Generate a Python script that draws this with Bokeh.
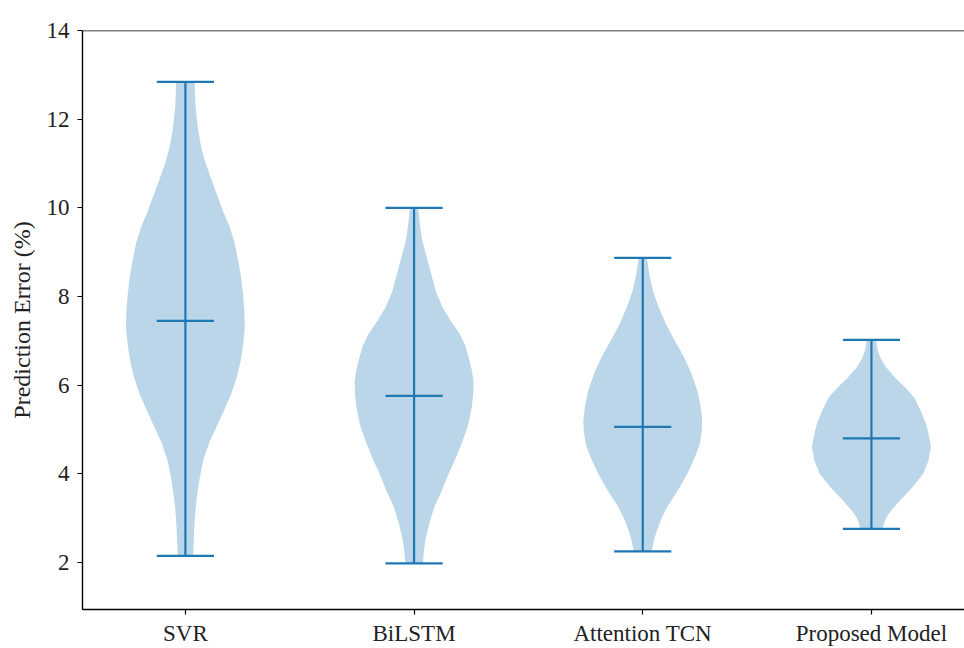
from bokeh.plotting import figure
from bokeh.models import Range1d, FixedTicker, Span
from bokeh.embed import file_html
from bokeh.resources import INLINE

# ---- data ----
categories = ["SVR", "BiLSTM", "Attention TCN", "Proposed Model"]
positions = [1, 2, 3, 4]

svr_y = [2.16, 2.50, 2.80, 3.20, 3.54, 3.90, 4.30, 4.70, 5.05, 5.40, 5.80, 6.20, 6.55, 6.90,
         7.30, 7.70, 8.05, 8.40, 8.80, 9.20, 9.55, 9.90, 10.30, 10.70, 11.05, 11.40, 11.80, 12.30, 12.84]
svr_d = [0.13, 0.14, 0.15, 0.17, 0.20, 0.24, 0.30, 0.40, 0.52, 0.64, 0.77, 0.87, 0.93, 0.97,
         1.00, 0.99, 0.97, 0.94, 0.89, 0.83, 0.75, 0.64, 0.53, 0.42, 0.33, 0.26, 0.21, 0.17, 0.155]

bilstm_y = [1.98, 2.20, 2.50, 2.85, 3.25, 3.60, 4.00, 4.35, 4.75, 5.10, 5.50, 5.80, 6.10, 6.35,
            6.62, 6.90, 7.15, 7.45, 7.75, 8.10, 8.50, 8.90, 9.25, 9.60, 10.0]
bilstm_d = [0.15, 0.16, 0.19, 0.25, 0.34, 0.46, 0.58, 0.70, 0.82, 0.91, 0.97, 0.995, 1.00, 0.97,
            0.92, 0.86, 0.77, 0.62, 0.48, 0.37, 0.29, 0.21, 0.14, 0.10, 0.07]

atcn_y = [2.25, 2.45, 2.65, 2.95, 3.25, 3.60, 4.00, 4.35, 4.67, 4.95, 5.20, 5.55, 5.87, 6.25,
          6.62, 7.00, 7.38, 7.75, 8.13, 8.50, 8.87]
atcn_d = [0.15, 0.18, 0.22, 0.30, 0.41, 0.58, 0.75, 0.87, 0.96, 0.99, 1.00, 0.97, 0.92, 0.82,
          0.70, 0.54, 0.39, 0.27, 0.17, 0.11, 0.07]

prop_y = [2.76, 2.88, 3.02, 3.20, 3.40, 3.70, 4.00, 4.30, 4.60, 4.85, 5.12, 5.42, 5.72, 5.95,
          6.17, 6.40, 6.62, 6.82, 7.02]
prop_d = [0.19, 0.21, 0.25, 0.35, 0.48, 0.69, 0.87, 0.96, 1.00, 0.97, 0.92, 0.83, 0.72, 0.57,
          0.40, 0.25, 0.15, 0.10, 0.08]

mins = [2.15, 1.98, 2.25, 2.76]
maxs = [12.84, 10.0, 8.87, 7.02]
means = [7.45, 5.76, 5.06, 4.80]

y_ticks = [2, 4, 6, 8, 10, 12, 14]
y_title = "Prediction Error (%)"

profiles_y = [svr_y, bilstm_y, atcn_y, prop_y]
profiles_d = [svr_d, bilstm_d, atcn_d, prop_d]

# ---- styling ----
C0 = "#1f77b4"
FONT = "Liberation Serif"
half_max = 0.26
cap_half = 0.125

p = figure(width=964, height=648, output_backend="svg", toolbar_location=None,
           x_range=Range1d(0.55, 4.407), y_range=Range1d(0.94, 14.0),
           min_border_left=82, min_border_top=30, min_border_right=0, min_border_bottom=30)

p.outline_line_color = None
p.xgrid.visible = False
p.ygrid.visible = False
p.background_fill_color = "white"
p.border_fill_color = "white"

# violins
xs_all, ys_all = [], []
for pos, yy, dd in zip(positions, profiles_y, profiles_d):
    right = [pos + half_max * d for d in dd]
    left = [pos - half_max * d for d in dd]
    xs_all.append(right + left[::-1])
    ys_all.append(list(yy) + list(yy)[::-1])
p.patches(xs_all, ys_all, fill_color=C0, fill_alpha=0.3, line_color=None)

# bars, caps, means
p.segment(x0=positions, y0=mins, x1=positions, y1=maxs, line_color=C0, line_width=2.2)
p.segment(x0=[x - cap_half for x in positions], y0=mins,
          x1=[x + cap_half for x in positions], y1=mins, line_color=C0, line_width=2.2)
p.segment(x0=[x - cap_half for x in positions], y0=maxs,
          x1=[x + cap_half for x in positions], y1=maxs, line_color=C0, line_width=2.2)
p.segment(x0=[x - cap_half for x in positions], y0=means,
          x1=[x + cap_half for x in positions], y1=means, line_color=C0, line_width=2.2)

# top spine
p.add_layout(Span(location=14.0, dimension="width", line_color="black", line_width=1.4))

# axes
p.xaxis.ticker = FixedTicker(ticks=positions)
p.xaxis.major_label_overrides = {pos: name for pos, name in zip(positions, categories)}
p.yaxis.ticker = FixedTicker(ticks=y_ticks)
p.yaxis.axis_label = y_title

for ax in (p.xaxis[0], p.yaxis[0]):
    ax.axis_line_color = "black"
    ax.axis_line_width = 1.4
    ax.major_tick_line_color = "black"
    ax.major_tick_line_width = 1.2
    ax.major_tick_out = 5
    ax.major_tick_in = 0
    ax.minor_tick_line_color = None
    ax.major_label_text_font = FONT
    ax.major_label_text_font_size = "23px"
    ax.major_label_text_color = "#222222"
    ax.axis_label_text_font = FONT
    ax.axis_label_text_font_size = "24px"
    ax.axis_label_text_font_style = "normal"
    ax.axis_label_text_color = "#222222"

p.xaxis.major_label_standoff = 6
p.yaxis.major_label_standoff = 8
p.yaxis.axis_label_standoff = 9

with open("out.html", "w") as f:
    f.write(file_html(p, INLINE))
